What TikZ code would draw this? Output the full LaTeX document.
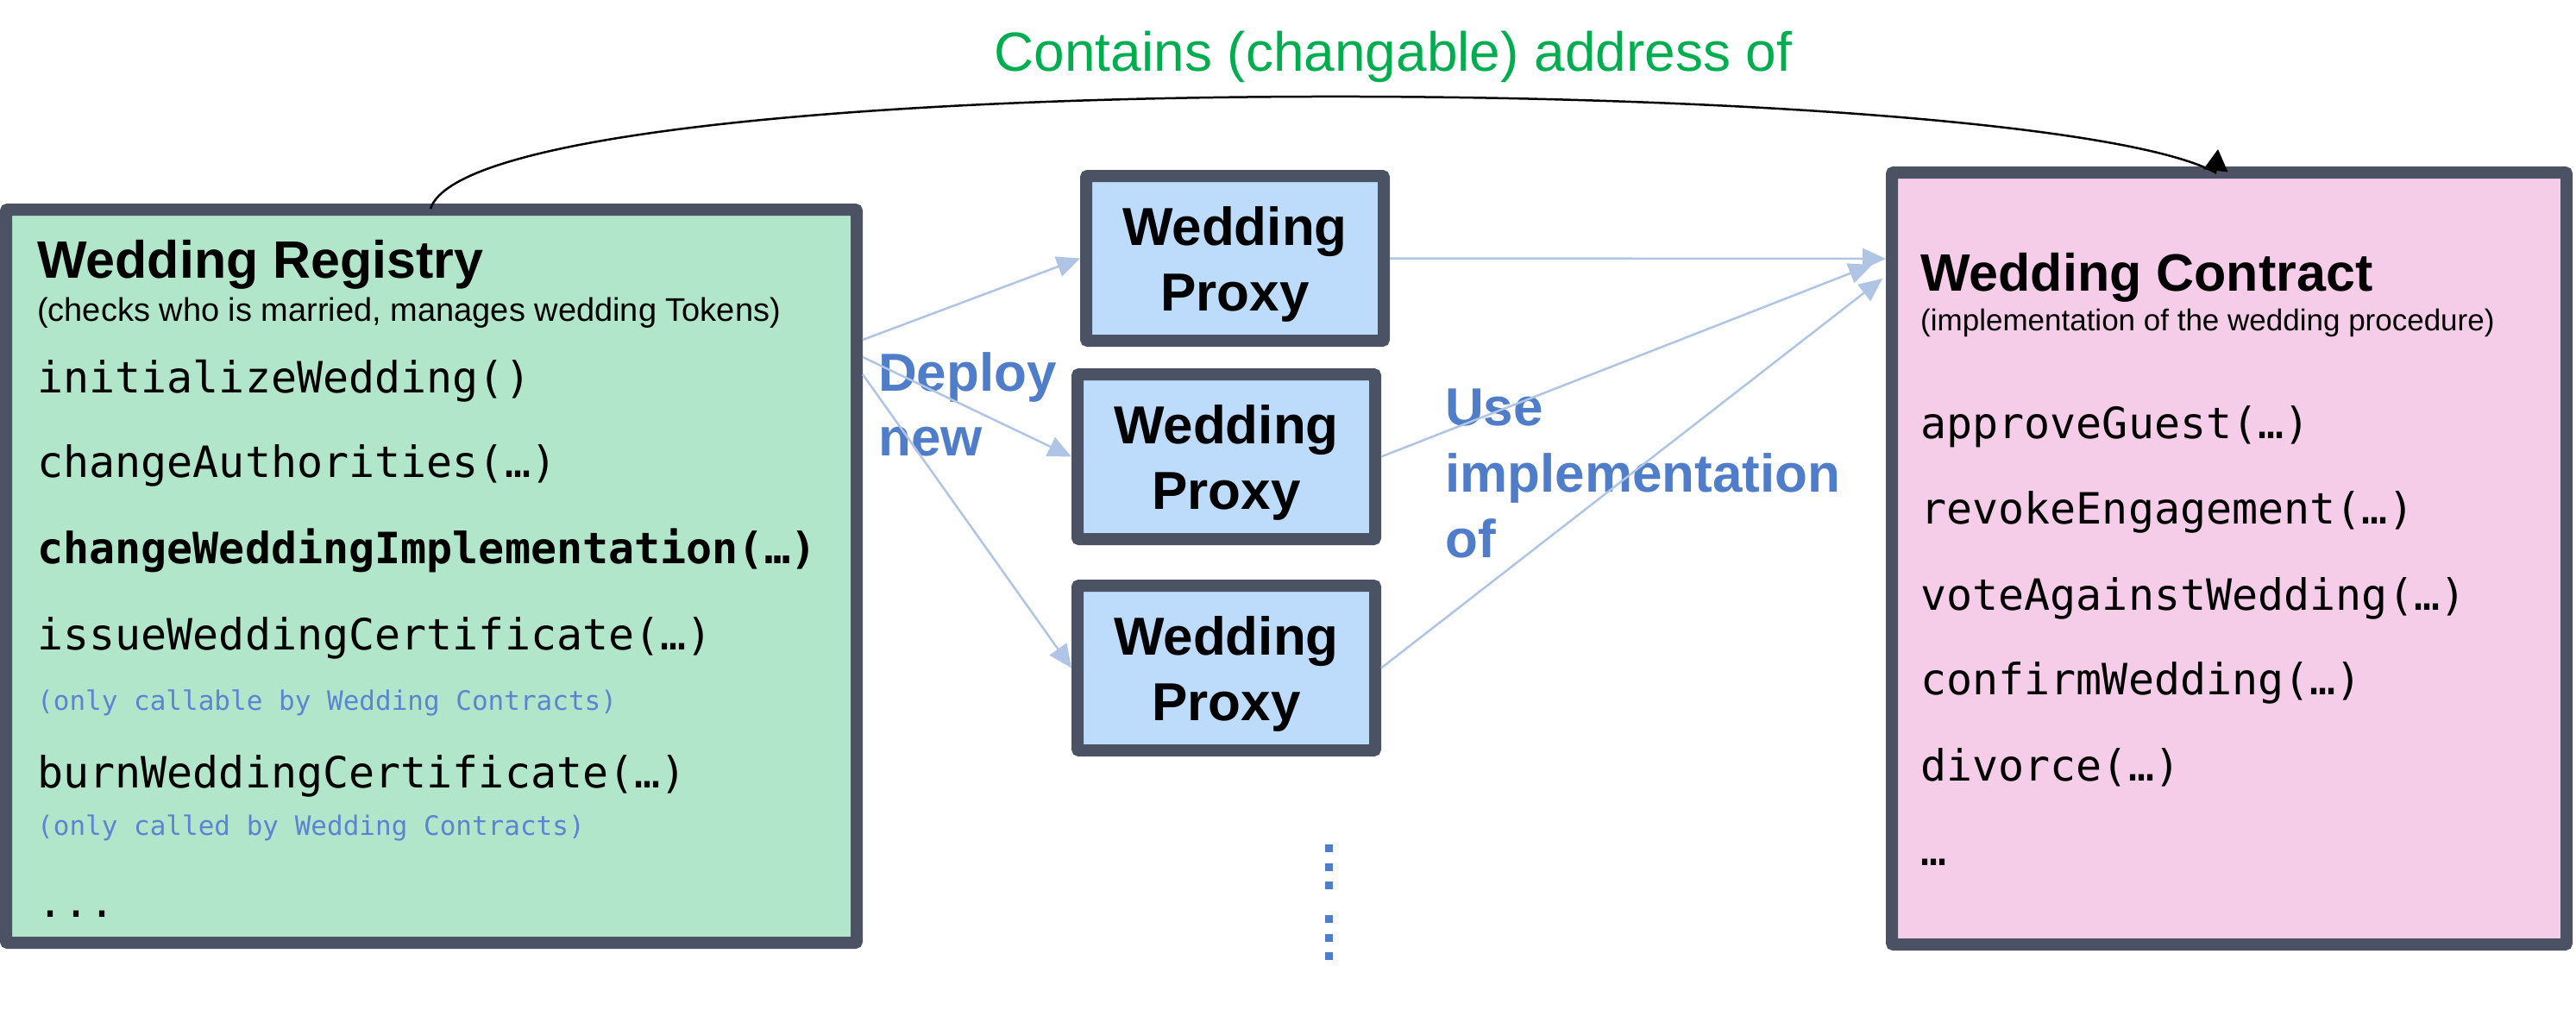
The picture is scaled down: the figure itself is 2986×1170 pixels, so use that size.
\documentclass[tikz,border=0pt]{standalone}
\usepackage{fontspec}
\setmainfont{Liberation Sans}
\newfontfamily\codefont{DejaVu Sans Mono}
\usetikzlibrary{arrows.meta}
\definecolor{boxc}{HTML}{4B5263}
\definecolor{regc}{HTML}{B2E6CA}
\definecolor{proxc}{HTML}{BDDCFC}
\definecolor{conc}{HTML}{F6CDE9}
\definecolor{lblc}{HTML}{4F7DC9}
\definecolor{notec}{HTML}{5A85D2}
\definecolor{arrc}{HTML}{B0C4E6}
\definecolor{titlec}{HTML}{00AE4F}
\tikzset{
  box/.style={draw=boxc, line width=14pt, rounded corners=2pt, inner sep=0pt},
  proxybox/.style={box, fill=proxc, minimum width=345pt, minimum height=191pt},
  proxytext/.style={inner sep=0pt, align=center, font=\fontsize{62}{76}\selectfont\bfseries},
  txt/.style={anchor=base west, inner sep=0pt},
  head/.style={txt, font=\fontsize{61}{73}\selectfont\bfseries},
  sub/.style={txt, font=\fontsize{38}{46}\selectfont},
  code/.style={txt, font=\codefont\fontsize{50}{60}\selectfont},
  codeb/.style={txt, font=\codefont\fontsize{50}{60}\selectfont\bfseries},
  note/.style={txt, font=\codefont\fontsize{31}{37}\selectfont, text=notec},
  lbl/.style={txt, font=\fontsize{62}{76}\selectfont\bfseries, text=lblc},
  link/.style={draw=arrc, line width=2.5pt, -{Triangle[length=27pt,width=24pt]}},
  addr/.style={draw=black, line width=2.5pt, -{Triangle[length=25pt,width=28pt]}},
  moredots/.style={draw=lblc, line width=9pt, dash pattern=on 9pt off 12.5pt}
}
\begin{document}
\begin{tikzpicture}[x=1pt,y=-1pt]
\useasboundingbox (0,0) rectangle (2986,1170);

% boxes
\node[box, fill=regc, minimum width=986pt, minimum height=850pt] (reg) at (500,668) {};
\node[proxybox] (p1) at (1431.5,299.5) {};
\node[proxybox] (p2) at (1421.5,529.5) {};
\node[proxybox] (p3) at (1421.5,774.5) {};
\node[box, fill=conc, minimum width=782pt, minimum height=895pt] (con) at (2584,647.5) {};

% proxy texts
\node[proxytext] (p1t) at ([yshift=-7pt]p1.center) {Wedding\\Proxy};
\node[proxytext] (p2t) at ([yshift=-7pt]p2.center) {Wedding\\Proxy};
\node[proxytext] (p3t) at ([yshift=-7pt]p3.center) {Wedding\\Proxy};

% registry content
\node[head] (rt) at (43,322) {Wedding Registry};
\node[sub] (rs) at (43,372) {(checks who is married, manages wedding Tokens)};
\node[code] (r1) at (43,455) {initializeWedding()};
\node[code] (r2) at (43,553) {changeAuthorities(…)};
\node[codeb] (r3) at (43,653) {changeWeddingImplementation(…)};
\node[code] (r4) at (43,753) {issueWeddingCertificate(…)};
\node[note] (r4n) at (43,823) {(only callable by Wedding Contracts)};
\node[code] (r5) at (43,913) {burnWeddingCertificate(…)};
\node[note] (r5n) at (43,968) {(only called by Wedding Contracts)};
\node[code] (r6) at (43,1063) {...};

% contract content
\node[head] (ct) at (2226,337) {Wedding Contract};
\node[sub, font=\fontsize{35}{42}\selectfont] (cs) at (2226,383) {(implementation of the wedding procedure)};
\node[code] (c1) at (2226,508) {approveGuest(…)};
\node[code] (c2) at (2226,607) {revokeEngagement(…)};
\node[code] (c3) at (2226,707) {voteAgainstWedding(…)};
\node[code] (c4) at (2226,805) {confirmWedding(…)};
\node[code] (c5) at (2226,905) {divorce(…)};
\node[code] (c6) at (2226,1003) {…};

% labels
\node[lbl] (dep1) at (1018,453) {Deploy};
\node[lbl] (dep2) at (1018,528) {new};
\node[lbl] (use1) at (1675,493) {Use};
\node[lbl] (use2) at (1675,570) {implementation};
\node[lbl] (use3) at (1675,646) {of};

% deploy arrows
\draw[link] ([yshift=-158pt]reg.north east) -- (p1.west);
\draw[link] ([yshift=-178pt]reg.north east) -- (p2.west);
\draw[link] ([yshift=-198pt]reg.north east) -- (p3.west);

% use implementation arrows
\draw[link] (p1.east) -- ([yshift=-107pt]con.north west);
\draw[link] (p2.east) -- ([xshift=-16pt,yshift=-114pt]con.north west);
\draw[link] (p3.east) -- ([xshift=-4pt,yshift=-130pt]con.north west);

% address connector
\draw[addr] ([xshift=499pt,yshift=-6pt]reg.north west)
  .. controls (555,70) and (2350,82) .. ([xshift=-16pt,yshift=-7pt]con.north)
  -- ([xshift=-13pt,yshift=20pt]con.north);

\node[anchor=base, inner sep=0pt, font=\fontsize{64}{77}\selectfont, text=titlec] (title) at (1615,82) {Contains (changable) address of};

% more proxies
\draw[moredots] (1540,979) -- (1540,1031);
\draw[moredots] (1540,1061) -- (1540,1113);
\end{tikzpicture}
\end{document}
